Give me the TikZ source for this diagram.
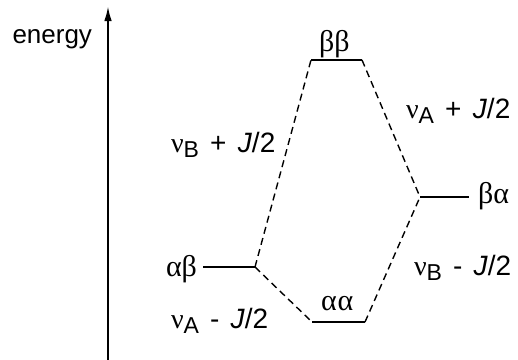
\documentclass[tikz,border=0pt]{standalone}
\usepackage{fontspec}
\setmainfont{Liberation Sans}
\newfontfamily\grk{Liberation Serif}
\usetikzlibrary{arrows.meta}
\newcommand{\gap}{\hspace{0.4em}}
\newcommand{\sublbl}[1]{\raisebox{-0.2em}{\fontsize{23}{26}\selectfont #1}}
\begin{document}
\begin{tikzpicture}[x=1pt, y=-1pt, line width=2pt,
  level/.style={line width=2.3pt},
  link/.style={line width=1.4pt, dash pattern=on 7pt off 4.5pt},
  lbl/.style={font=\fontsize{28}{32}\selectfont, inner sep=0pt},
  glbl/.style={font=\fontsize{30}{36}\selectfont\grk, inner sep=0pt}]
  \useasboundingbox (0,0) rectangle (518,359);
  % energy axis
  \coordinate (ax0) at (108,360);
  \coordinate (ax1) at (108,6);
  \draw[-{Latex[length=15pt,width=7.5pt]}] (ax0) -- (ax1);
  \node[lbl, font=\fontsize{26}{30}\selectfont, anchor=base east] (en) at (93,43) {energy};
  % levels
  \coordinate (bbL) at (311,60);
  \coordinate (bbR) at (362,60);
  \coordinate (baL) at (420,197);
  \coordinate (baR) at (469,197);
  \coordinate (abL) at (203,267);
  \coordinate (abR) at (255,267);
  \coordinate (aaL) at (312,322);
  \coordinate (aaR) at (365,322);
  \draw[level] (bbL) -- (bbR);
  \draw[level] (baL) -- (baR);
  \draw[level] (abL) -- (abR);
  \draw[level] (aaL) -- (aaR);
  \node[glbl, anchor=base west] (bb) at (318,51) {ββ};
  \node[glbl, anchor=base west] (ba) at (477,203) {βα};
  \node[glbl, anchor=base east] (ab) at (198,276) {αβ};
  \node[glbl, anchor=base west] (aa) at (320,310) {α\kern1ptα};
  % transitions
  \draw[link] (abR) -- (bbL);
  \draw[link] (bbR) -- (baL);
  \draw[link] (abR) -- (aaL);
  \draw[link] (aaR) -- (baL);
  \node[lbl, anchor=base west] (tBp) at (170,152) {{\grk ν}\sublbl{B}\gap+\gap\textit{J}/2};
  \node[lbl, anchor=base west] (tAp) at (405,118) {{\grk ν}\sublbl{A}\gap+\gap\textit{J}/2};
  \node[lbl, anchor=base west] (tBm) at (413,275) {{\grk ν}\sublbl{B}\gap-\gap\textit{J}/2};
  \node[lbl, anchor=base west] (tAm) at (170,328) {{\grk ν}\sublbl{A}\gap-\gap\textit{J}/2};
\end{tikzpicture}
\end{document}
